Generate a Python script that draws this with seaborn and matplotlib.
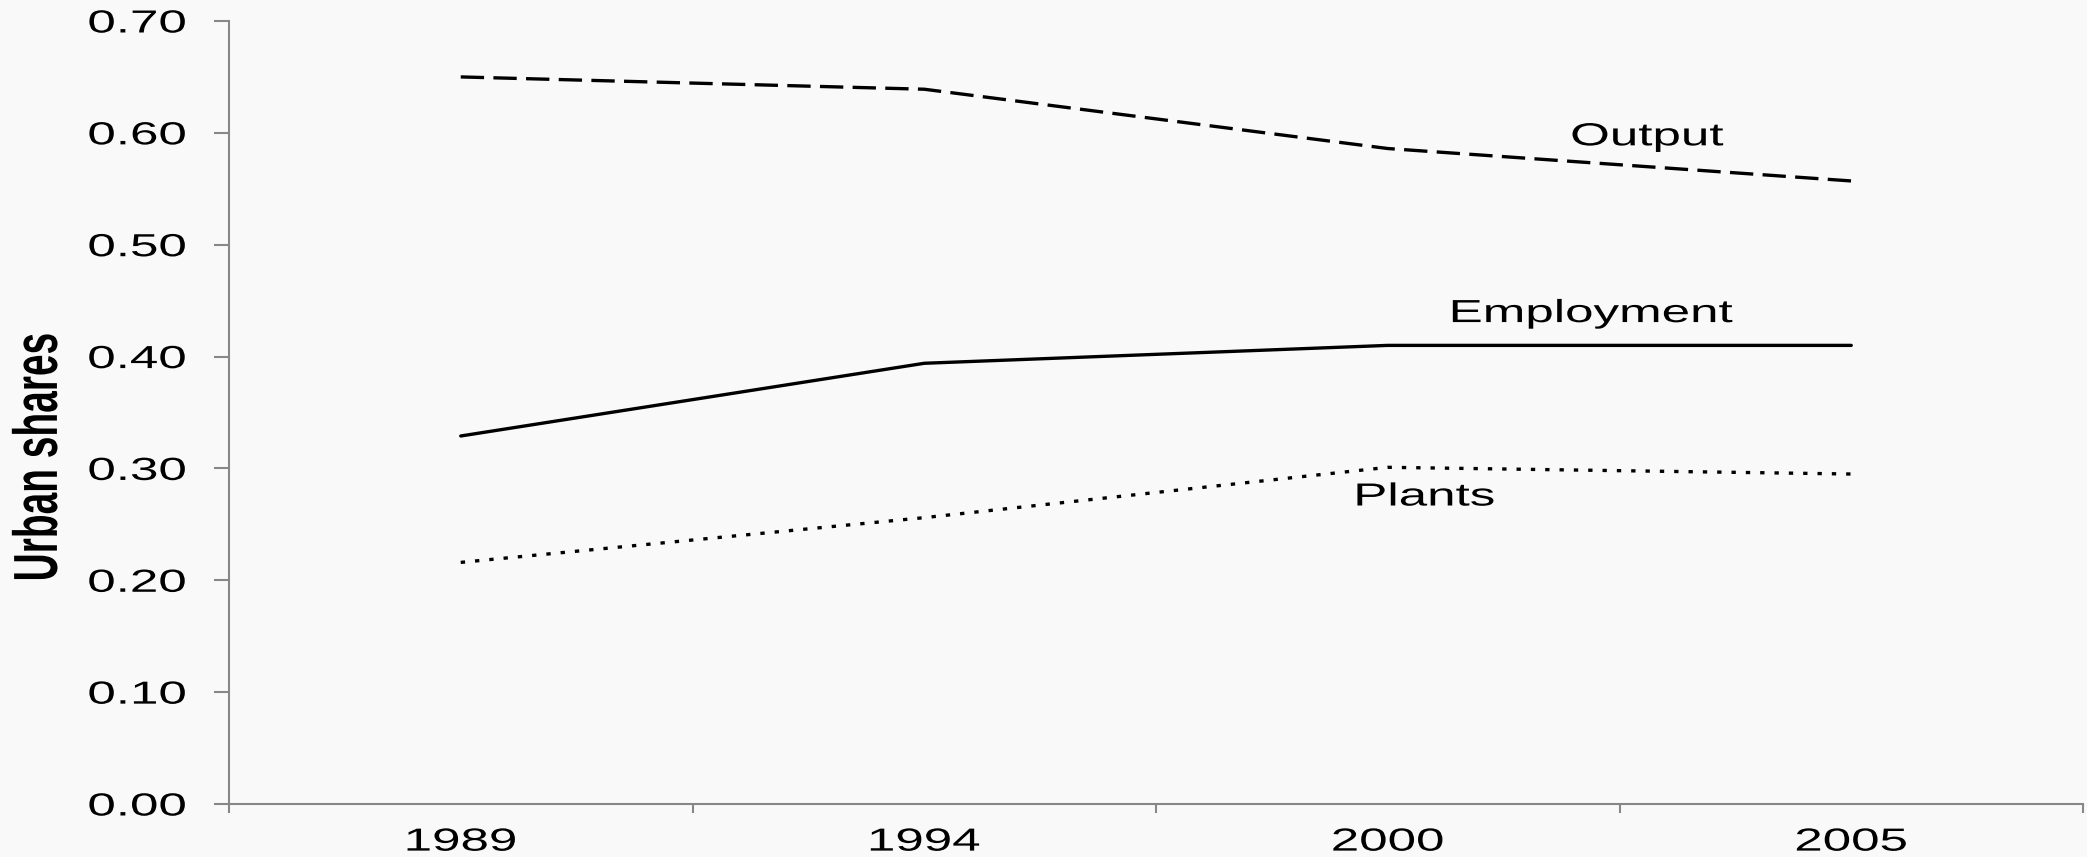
import matplotlib
matplotlib.use('Agg')
from matplotlib import pyplot as plt
from matplotlib.patheffects import AbstractPathEffect
from matplotlib.ticker import FixedLocator
from matplotlib.transforms import Affine2D
import pandas as pd
import seaborn as sns

years = ['1989', '1994', '2000', '2005']
output = [0.650, 0.639, 0.586, 0.557]
employment = [0.329, 0.394, 0.410, 0.410]
plants = [0.216, 0.256, 0.301, 0.295]

df = pd.DataFrame({
    'pos': range(len(years)),
    'Output': output,
    'Employment': employment,
    'Plants': plants,
})


class Widen(AbstractPathEffect):
    """Stretch rendered text horizontally (the original has wide, stretched type)."""

    def __init__(self, sx, anchor='center'):
        super().__init__()
        self.sx = sx
        self.anchor = anchor

    def draw_path(self, renderer, gc, tpath, affine, rgbFace=None):
        ext = affine.transform_path(tpath).get_extents()
        cx = ext.x1 if self.anchor == 'right' else (ext.x0 + ext.x1) / 2
        stretch = Affine2D().translate(-cx, 0).scale(self.sx, 1).translate(cx, 0)
        renderer.draw_path(gc, tpath, affine + stretch, rgbFace)


bg = '#faf9fa'
sns.set_theme(style='white', rc={'axes.facecolor': bg, 'figure.facecolor': bg})
plt.rcParams['font.family'] = ['Liberation Sans', 'DejaVu Sans']
plt.rcParams['text.color'] = 'black'
plt.rcParams['axes.labelcolor'] = 'black'

fig = plt.figure(figsize=(20.87, 8.57), dpi=100)
ax = fig.add_axes([229 / 2087, 53 / 857, 1854 / 2087, 783 / 857])

sns.lineplot(ax=ax, data=df, x='pos', y='Output', color='black',
             linewidth=2.4, linestyle=(0, (7, 2.8)))
sns.lineplot(ax=ax, data=df, x='pos', y='Employment', color='black',
             linewidth=2.4)
sns.lineplot(ax=ax, data=df, x='pos', y='Plants', color='black',
             linewidth=2.4, linestyle=(0, (1.3, 3.0)))

fs = 23
sx = 1.6
wide = [Widen(sx)]

# series labels next to the lines
ax.text(2.56, 0.596, 'Output', fontsize=fs, ha='center', va='center', path_effects=wide)
ax.text(2.44, 0.438, 'Employment', fontsize=fs, ha='center', va='center', path_effects=wide)
ax.text(2.08, 0.274, 'Plants', fontsize=fs, ha='center', va='center', path_effects=wide)

ax.set_xlim(-0.5, len(years) - 0.5)
ax.set_ylim(0, 0.70)
ax.set_yticks([i / 10 for i in range(8)])
ax.set_yticklabels([f'{i / 10:.2f}' for i in range(8)], fontsize=fs)

# category axis: ticks between categories, labels centred
ax.xaxis.set_major_locator(FixedLocator([i - 0.5 for i in range(len(years) + 1)]))
ax.xaxis.set_minor_locator(FixedLocator(list(range(len(years)))))
ax.set_xticklabels([])
ax.set_xticklabels(years, minor=True, fontsize=fs)

gray = '#878787'
for side in ['top', 'right']:
    ax.spines[side].set_visible(False)
for side in ['left', 'bottom']:
    ax.spines[side].set_color(gray)
    ax.spines[side].set_linewidth(1.5)
ax.tick_params(axis='y', which='major', direction='out', length=11, width=1.5,
               color=gray, labelcolor='black', pad=20, left=True)
ax.tick_params(axis='x', which='major', direction='out', length=6.5, width=1.5,
               color=gray, bottom=True)
ax.tick_params(axis='x', which='minor', length=0, pad=17, labelcolor='black', bottom=True)

for lbl in ax.get_yticklabels():
    lbl.set_path_effects([Widen(sx, 'right')])
for lbl in ax.get_xticklabels(minor=True):
    lbl.set_path_effects(wide)

ax.set_xlabel('')
ax.set_ylabel('Urban shares', fontsize=28, fontweight='bold', path_effects=wide)
ax.yaxis.set_label_coords(-0.093, 0.443)

fig.savefig('out.png', dpi=100, facecolor=bg)
